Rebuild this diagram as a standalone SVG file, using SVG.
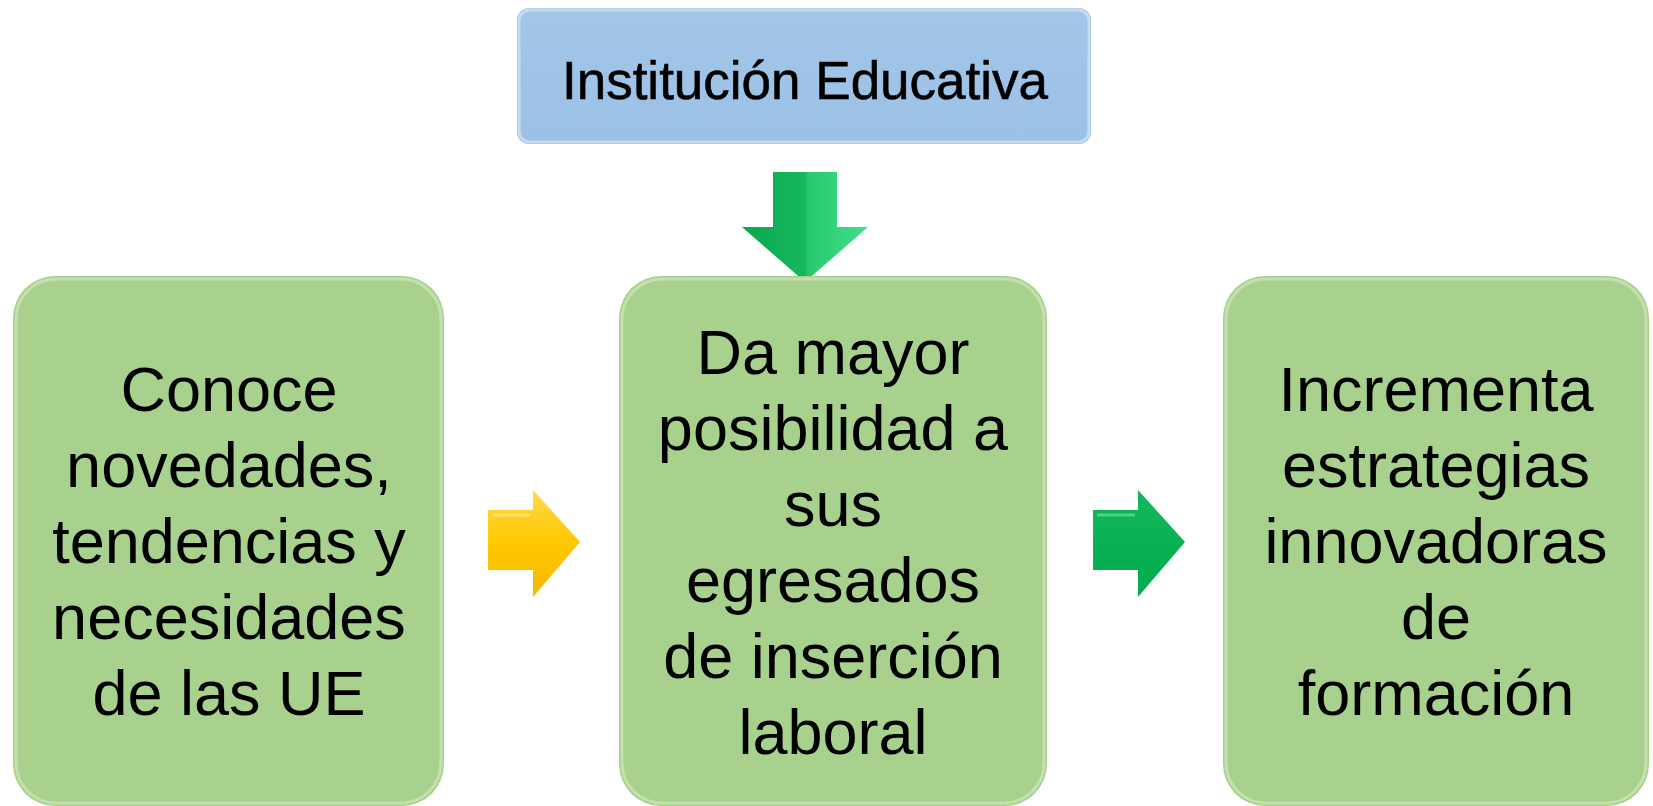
<svg xmlns="http://www.w3.org/2000/svg" width="1653" height="806" viewBox="0 0 1653 806">
<defs>
<style>
.box{fill:#A9D18E;}
.boxEdge{fill:none;stroke:#C3E0AE;stroke-width:3;}
.txt{font-family:"Liberation Sans",Arial,sans-serif;font-size:63px;fill:#000;text-anchor:middle;}
.title{font-family:"Liberation Sans",Arial,sans-serif;font-size:53px;fill:#000;stroke:#000;stroke-width:0.6;text-anchor:middle;}
</style>
<linearGradient id="gYellow" x1="0" y1="0" x2="0" y2="1">
<stop offset="0" stop-color="#FFD94A"/>
<stop offset="0.5" stop-color="#FFC800"/>
<stop offset="1" stop-color="#F2B800"/>
</linearGradient>
<linearGradient id="gGreen" x1="0" y1="0" x2="0" y2="1">
<stop offset="0" stop-color="#12B85A"/>
<stop offset="1" stop-color="#00AC4C"/>
</linearGradient>
<linearGradient id="gDown" x1="0" y1="0" x2="1" y2="0">
<stop offset="0" stop-color="#07A84E"/>
<stop offset="0.5" stop-color="#17B85C"/>
<stop offset="0.52" stop-color="#27C86E"/>
<stop offset="1" stop-color="#3FE08A"/>
</linearGradient>
<linearGradient id="gBlue" x1="0" y1="0" x2="0" y2="1">
<stop offset="0" stop-color="#A3C6E8"/>
<stop offset="1" stop-color="#9BC1E5"/>
</linearGradient>
</defs>

<g id="connectors">
<polygon id="arrow-down" points="773,172 837,172 837,227 868,227 805,282 742,227 773,227" fill="url(#gDown)"/>
<polygon id="arrow-yellow" points="488,510 533,510 533,490 580,542 533,597 533,570 488,570" fill="url(#gYellow)"/>
<line x1="492" y1="515" x2="530" y2="515" stroke="#FFE680" stroke-width="3" opacity="0.8"/>
<polygon id="arrow-green" points="1093,510 1138,510 1138,490 1185,542 1138,597 1138,570 1093,570" fill="url(#gGreen)"/>
<line x1="1097" y1="515" x2="1135" y2="515" stroke="#5FD892" stroke-width="3" opacity="0.8"/>
</g>

<g id="node-institucion">
<rect x="517" y="8" width="574" height="136" rx="12" fill="url(#gBlue)"/>
<rect x="519" y="10" width="570" height="132" rx="11" fill="none" stroke="#C4DCF2" stroke-width="3"/>
<text class="title" x="805" y="99">Institución Educativa</text>
</g>

<g id="node-conoce">
<rect class="box" x="13" y="276" width="431" height="530" rx="42"/>
<rect class="boxEdge" x="16" y="279" width="425" height="524" rx="40"/>
<text class="txt" x="229" y="411">Conoce</text>
<text class="txt" x="229" y="487">novedades,</text>
<text class="txt" x="229" y="563">tendencias y</text>
<text class="txt" x="229" y="639">necesidades</text>
<text class="txt" x="229" y="715">de las UE</text>
</g>

<g id="node-da-mayor">
<rect class="box" x="619" y="276" width="428" height="530" rx="42"/>
<rect class="boxEdge" x="622" y="279" width="422" height="524" rx="40"/>
<text class="txt" x="833" y="374">Da mayor</text>
<text class="txt" x="833" y="450">posibilidad a</text>
<text class="txt" x="833" y="526">sus</text>
<text class="txt" x="833" y="602">egresados</text>
<text class="txt" x="833" y="678">de inserción</text>
<text class="txt" x="833" y="754">laboral</text>
</g>

<g id="node-incrementa">
<rect class="box" x="1223" y="276" width="426" height="530" rx="42"/>
<rect class="boxEdge" x="1226" y="279" width="420" height="524" rx="40"/>
<text class="txt" x="1436" y="411">Incrementa</text>
<text class="txt" x="1436" y="487">estrategias</text>
<text class="txt" x="1436" y="563">innovadoras</text>
<text class="txt" x="1436" y="639">de</text>
<text class="txt" x="1436" y="715">formación</text>
</g>
</svg>
